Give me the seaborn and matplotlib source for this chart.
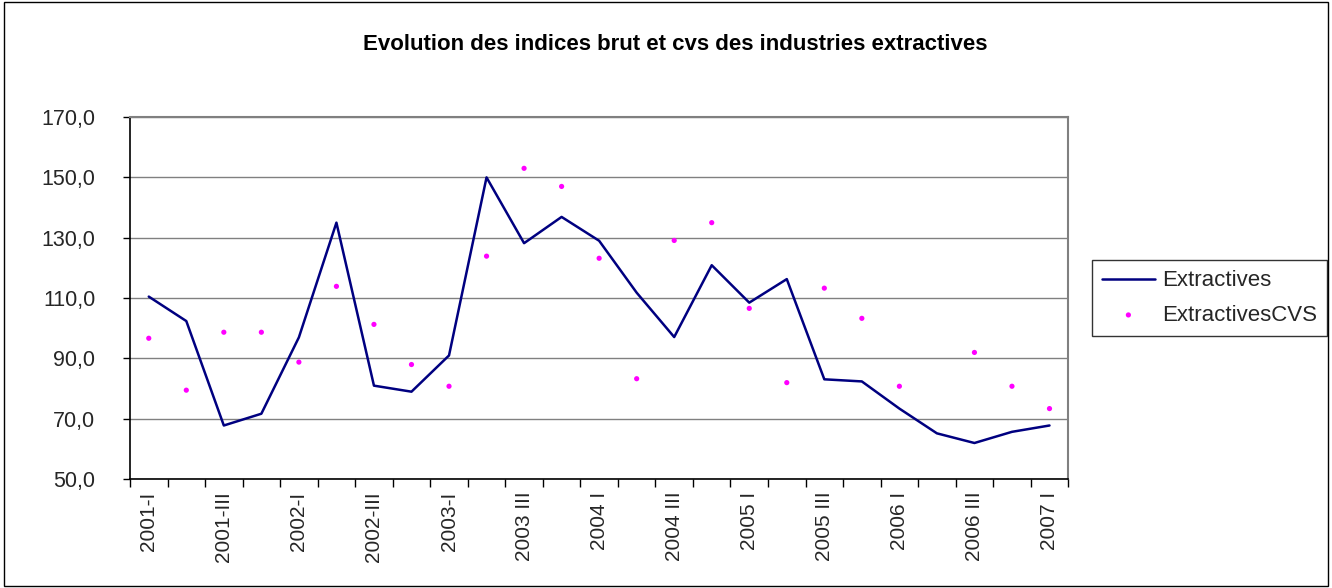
import numpy as np
import pandas as pd
import matplotlib
matplotlib.use("Agg")
import matplotlib.pyplot as plt
import seaborn as sns
from matplotlib.patches import Rectangle
from matplotlib.ticker import FuncFormatter

# ----------------------------------------------------
# Data
# ----------------------------------------------------
quarters = ["2001-I", "2001-II", "2001-III", "2001-IV",
            "2002-I", "2002-II", "2002-III", "2002-IV",
            "2003-I", "2003 II", "2003 III", "2003 IV",
            "2004 I", "2004 II", "2004 III", "2004 IV",
            "2005 I", "2005 II", "2005 III", "2005 IV",
            "2006 I", "2006 II", "2006 III", "2006 IV",
            "2007 I"]
extractives = [110.5, 102.4, 67.8, 71.7, 97.0, 135.0, 81.0, 79.0, 91.0,
               150.0, 128.2, 136.9, 129.0, 111.8, 97.1, 120.9, 108.5,
               116.3, 83.1, 82.4, 73.4, 65.2, 62.0, 65.7, 67.8]
extractives_cvs = [96.7, 79.5, 98.7, 98.7, 88.8, 113.9, 101.3, 88.0, 80.8,
                   123.9, 153.0, 147.0, 123.2, 83.3, 129.1, 135.0, 106.6,
                   82.0, 113.3, 103.3, 80.8, np.nan, 92.0, 80.8, 73.4]
y_ticks = [50, 70, 90, 110, 130, 150, 170]

df = pd.DataFrame({"pos": np.arange(len(quarters)),
                   "quarter": quarters,
                   "Extractives": extractives,
                   "ExtractivesCVS": extractives_cvs})

# ----------------------------------------------------
# Figure
# ----------------------------------------------------
sns.set_style("white")
plt.rcParams["font.family"] = ["Liberation Sans", "DejaVu Sans"]

fig = plt.figure(figsize=(13.32, 5.88), dpi=100)
ax = fig.add_axes([0.0976, 0.185, 0.7044, 0.616])

# outer chart frame
fig.patches.append(Rectangle((0.003, 0.003), 0.994, 0.994, transform=fig.transFigure,
                             fill=False, edgecolor="black", linewidth=1.0))

sns.lineplot(data=df, x="pos", y="Extractives", ax=ax, color="#000080",
             linewidth=1.8, label="Extractives")
sns.scatterplot(data=df, x="pos", y="ExtractivesCVS", ax=ax, color="#FF00FF",
                s=14, edgecolor="none", label="ExtractivesCVS")

ax.set_xlim(-0.5, len(quarters) - 0.5)
ax.set_ylim(50, 170)
ax.set_yticks(y_ticks)
ax.yaxis.set_major_formatter(FuncFormatter(lambda v, p: f"{v:.1f}".replace(".", ",")))
ax.grid(axis="y", color="#808080", linewidth=1.0)
ax.set_axisbelow(True)

# x ticks: marks at category boundaries, labels every second category
label_pos = list(range(0, len(quarters), 2))
ax.set_xticks(label_pos)
ax.set_xticklabels([quarters[i] for i in label_pos], rotation=90, fontsize=15)
ax.set_xticks(np.arange(-0.5, len(quarters), 1), minor=True)
ax.tick_params(axis="x", which="major", length=0, pad=9)
ax.tick_params(axis="x", which="minor", length=6, width=1, color="black",
               direction="out", bottom=True)
ax.tick_params(axis="y", length=5, width=1, color="black", direction="out",
               left=True, labelsize=15.5, pad=20)

ax.set_xlabel("")
ax.set_ylabel("")
for side in ["top", "right"]:
    ax.spines[side].set_color("#808080")
    ax.spines[side].set_linewidth(1.5)
for side in ["left", "bottom"]:
    ax.spines[side].set_color("black")
    ax.spines[side].set_linewidth(1.2)

fig.text(0.507, 0.925, "Evolution des indices brut et cvs des industries extractives",
         ha="center", va="center", fontsize=16, fontweight="bold", color="black")

leg = ax.legend(loc="center left", bbox_to_anchor=(1.025, 0.5), frameon=True,
                fancybox=False, fontsize=16, handlelength=2.4, handletextpad=0.3,
                borderpad=0.45, borderaxespad=0, labelspacing=0.6, markerscale=1.0)
leg.get_frame().set_edgecolor("black")
leg.get_frame().set_linewidth(1.0)

fig.savefig("out.png", dpi=100)
